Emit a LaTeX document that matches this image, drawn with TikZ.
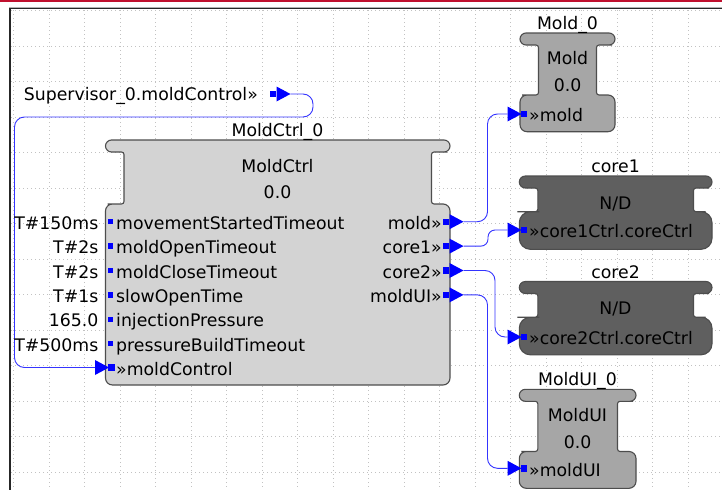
\documentclass[tikz,border=0pt]{standalone}
\usepackage{fontspec}
\setmainfont{DejaVu Sans}

\definecolor{framered}{HTML}{C0102E}
\definecolor{wireblue}{HTML}{3434FF}
\definecolor{portblue}{HTML}{0000FF}
\definecolor{edgegray}{HTML}{4D4D4D}
\definecolor{fbLight}{HTML}{D3D3D3}
\definecolor{fbMid}{HTML}{A6A6A6}
\definecolor{fbDark}{HTML}{5F5F5F}
\definecolor{gridgray}{HTML}{C2C2C2}

% Function block outline: bar on top, narrower neck, body below.
% The corner radius changes only at midpoints of straight edges.
% #1 style, #2 left, #3 right, #4 bar top, #5 body top, #6 body bottom, #7 body corner radius
\newcommand\fbshape[7]{%
  \path[#1] ({(#2+#3)/2},#4) [rounded corners=6pt] -- (#3,#4) -- (#3,{#4+12})
    -- ({#3-9},{#4+12}) [rounded corners=2.5pt] -- ({#3-18.5},{#4+12})
    -- ({#3-18.5},#5) -- ({#3-9},#5) [rounded corners=#7] -- (#3,#5)
    -- (#3,#6) -- (#2,#6) -- (#2,#5) -- ({#2+9},#5)
    [rounded corners=2.5pt] -- ({#2+18.5},#5) -- ({#2+18.5},{#4+12}) -- ({#2+9},{#4+12})
    [rounded corners=6pt] -- (#2,{#4+12}) -- (#2,#4) -- cycle;}

% Event input port: arrow head followed by a square; coordinate #1 at the arrow base
\newcommand\evin[3]{%
  \fill[portblue] (#2,{#3-7.5}) -- ({#2+14},#3) -- (#2,{#3+7.5}) -- cycle;
  \fill[portblue] ({#2+13},{#3-3.2}) rectangle ({#2+19.5},{#3+3.2});
  \coordinate (#1) at (#2,#3);}
% Event output port: square followed by an arrow head; coordinate #1 at the arrow tip
\newcommand\evout[3]{%
  \fill[portblue] (#2,{#3-3.2}) rectangle ({#2+6.3},{#3+3.2});
  \fill[portblue] ({#2+7},{#3-7.5}) -- ({#2+21},#3) -- ({#2+7},{#3+7.5}) -- cycle;
  \coordinate (#1) at ({#2+21},#3);}
% Data input port
\newcommand\datin[1]{\fill[portblue] (107.5,{#1-2.7}) rectangle (112.8,{#1+2.7});}

\begin{document}
\begin{tikzpicture}[x=1pt,y=-1pt,
  font=\fontsize{17.3}{20}\selectfont,
  griddot/.style={draw=gridgray, line width=0.8pt, dash pattern=on 1pt off 3pt},
  fbedge/.style={draw=edgegray, line width=1.1pt},
  wire/.style={draw=wireblue, line width=0.9pt, rounded corners=10pt},
  txt/.style={inner sep=0pt, anchor=base},
  txtl/.style={inner sep=0pt, anchor=base west},
  txtr/.style={inner sep=0pt, anchor=base east}]
\useasboundingbox (0,0) rectangle (722,490);
\fill[white] (0,0) rectangle (722,490);

% dotted editing grid
\foreach \k in {0,...,19}
  \draw[griddot] ({13.8+35.5*\k},10) -- ({13.8+35.5*\k},490);
\foreach \k in {0,...,13}
  \draw[griddot] (11,{10.8+35.5*\k}) -- (722,{10.8+35.5*\k});

% window frame
\fill[framered] (0,0) rectangle (722,1.7);
\fill[gray!60] (9,6.6) rectangle (722,7.7);
\fill[black!85] (8.5,7.7) rectangle (722,9.3);
\fill[black!85] (8.5,7.7) rectangle (11,490);

% function blocks
\fbshape{fbedge, fill=fbLight}{105.5}{450}{140}{204}{385}{7pt}
\fbshape{fbedge, fill=fbMid}{520}{615}{33}{95}{131.7}{7pt}
\fbshape{fbedge, fill=fbDark}{519.3}{712}{176}{211.7}{249.3}{11pt}
\fbshape{fbedge, fill=fbDark}{519.3}{712}{281.5}{317.2}{354.8}{11pt}
\fbshape{fbedge, fill=fbMid}{519.3}{636}{389.3}{451.5}{488.3}{7pt}

% ports
\evout{supout}{269.5}{94}
\evin{ctrlin}{95}{367.5}
\foreach \r in {0,...,5} { \datin{221.7+24.4*\r} }
\evout{out-mold}{442.5}{221.7}
\evout{out-core1}{442.5}{246.1}
\evout{out-core2}{442.5}{270.5}
\evout{out-ui}{442.5}{294.9}
\evin{in-mold}{507.5}{114}
\evin{in-core1}{507.5}{230}
\evin{in-core2}{507.5}{337}
\evin{in-ui}{507.5}{468.3}

% connections
\draw[wire] (supout) -- (313,94) -- (313,117) -- (14.5,117) -- (14.5,367.5) -- (ctrlin);
\draw[wire] (out-mold) -- (487.5,221.7) -- (487.5,114) -- (in-mold);
\draw[wire, rounded corners=7pt] (out-core1) -- (488,246.1) -- (488,230) -- (in-core1);
\draw[wire] (out-core2) -- (495,270.5) -- (495,337) -- (in-core2);
\draw[wire] (out-ui) -- (487.5,294.9) -- (487.5,468.3) -- (in-ui);

% labels
\node[txtr] (suplbl) at (258,100) {Supervisor\_0.moldControl»};

\node[txt] (ctrlname) at (277.5,136) {MoldCtrl\_0};
\node[txt] (ctrltype) at (277.5,172.5) {MoldCtrl};
\node[txt] (ctrlver) at (277.5,198) {0.0};

\node[txtl] (i1) at (116,229.2) {movementStartedTimeout};
\node[txtl] (i2) at (116,253.6) {moldOpenTimeout};
\node[txtl] (i3) at (116,278.0) {moldCloseTimeout};
\node[txtl] (i4) at (116,302.4) {slowOpenTime};
\node[txtl] (i5) at (116,326.8) {injectionPressure};
\node[txtl] (i6) at (116,351.2) {pressureBuildTimeout};
\node[txtl] (i7) at (116,375.6) {»moldControl};

\node[txtr] (v1) at (98.5,229.2) {T\#150ms};
\node[txtr] (v2) at (98.5,253.6) {T\#2s};
\node[txtr] (v3) at (98.5,278.0) {T\#2s};
\node[txtr] (v4) at (98.5,302.4) {T\#1s};
\node[txtr] (v5) at (98.5,326.8) {165.0};
\node[txtr] (v6) at (98.5,351.2) {T\#500ms};

\node[txtr] (o1) at (442,229.2) {mold»};
\node[txtr] (o2) at (442,253.6) {core1»};
\node[txtr] (o3) at (442,278.0) {core2»};
\node[txtr] (o4) at (442,302.4) {moldUI»};

\node[txt] (moldname) at (567.5,29.5) {Mold\_0};
\node[txt] (moldtype) at (567.5,64.5) {Mold};
\node[txt] (moldver) at (567.5,91) {0.0};
\node[txtl] (moldin) at (529,121.5) {»mold};

\node[txt] (c1name) at (615.5,172.5) {core1};
\node[txt] (c1type) at (615.5,209) {N/D};
\node[txtl] (c1in) at (529,237.8) {»core1Ctrl.coreCtrl};

\node[txt] (c2name) at (615.5,278) {core2};
\node[txt] (c2type) at (615.5,314.5) {N/D};
\node[txtl] (c2in) at (529,344.8) {»core2Ctrl.coreCtrl};

\node[txt] (uiname) at (577.5,385) {MoldUI\_0};
\node[txt] (uitype) at (577.5,421.5) {MoldUI};
\node[txt] (uiver) at (577.5,448) {0.0};
\node[txtl] (uiin) at (529,476) {»moldUI};
\end{tikzpicture}
\end{document}
